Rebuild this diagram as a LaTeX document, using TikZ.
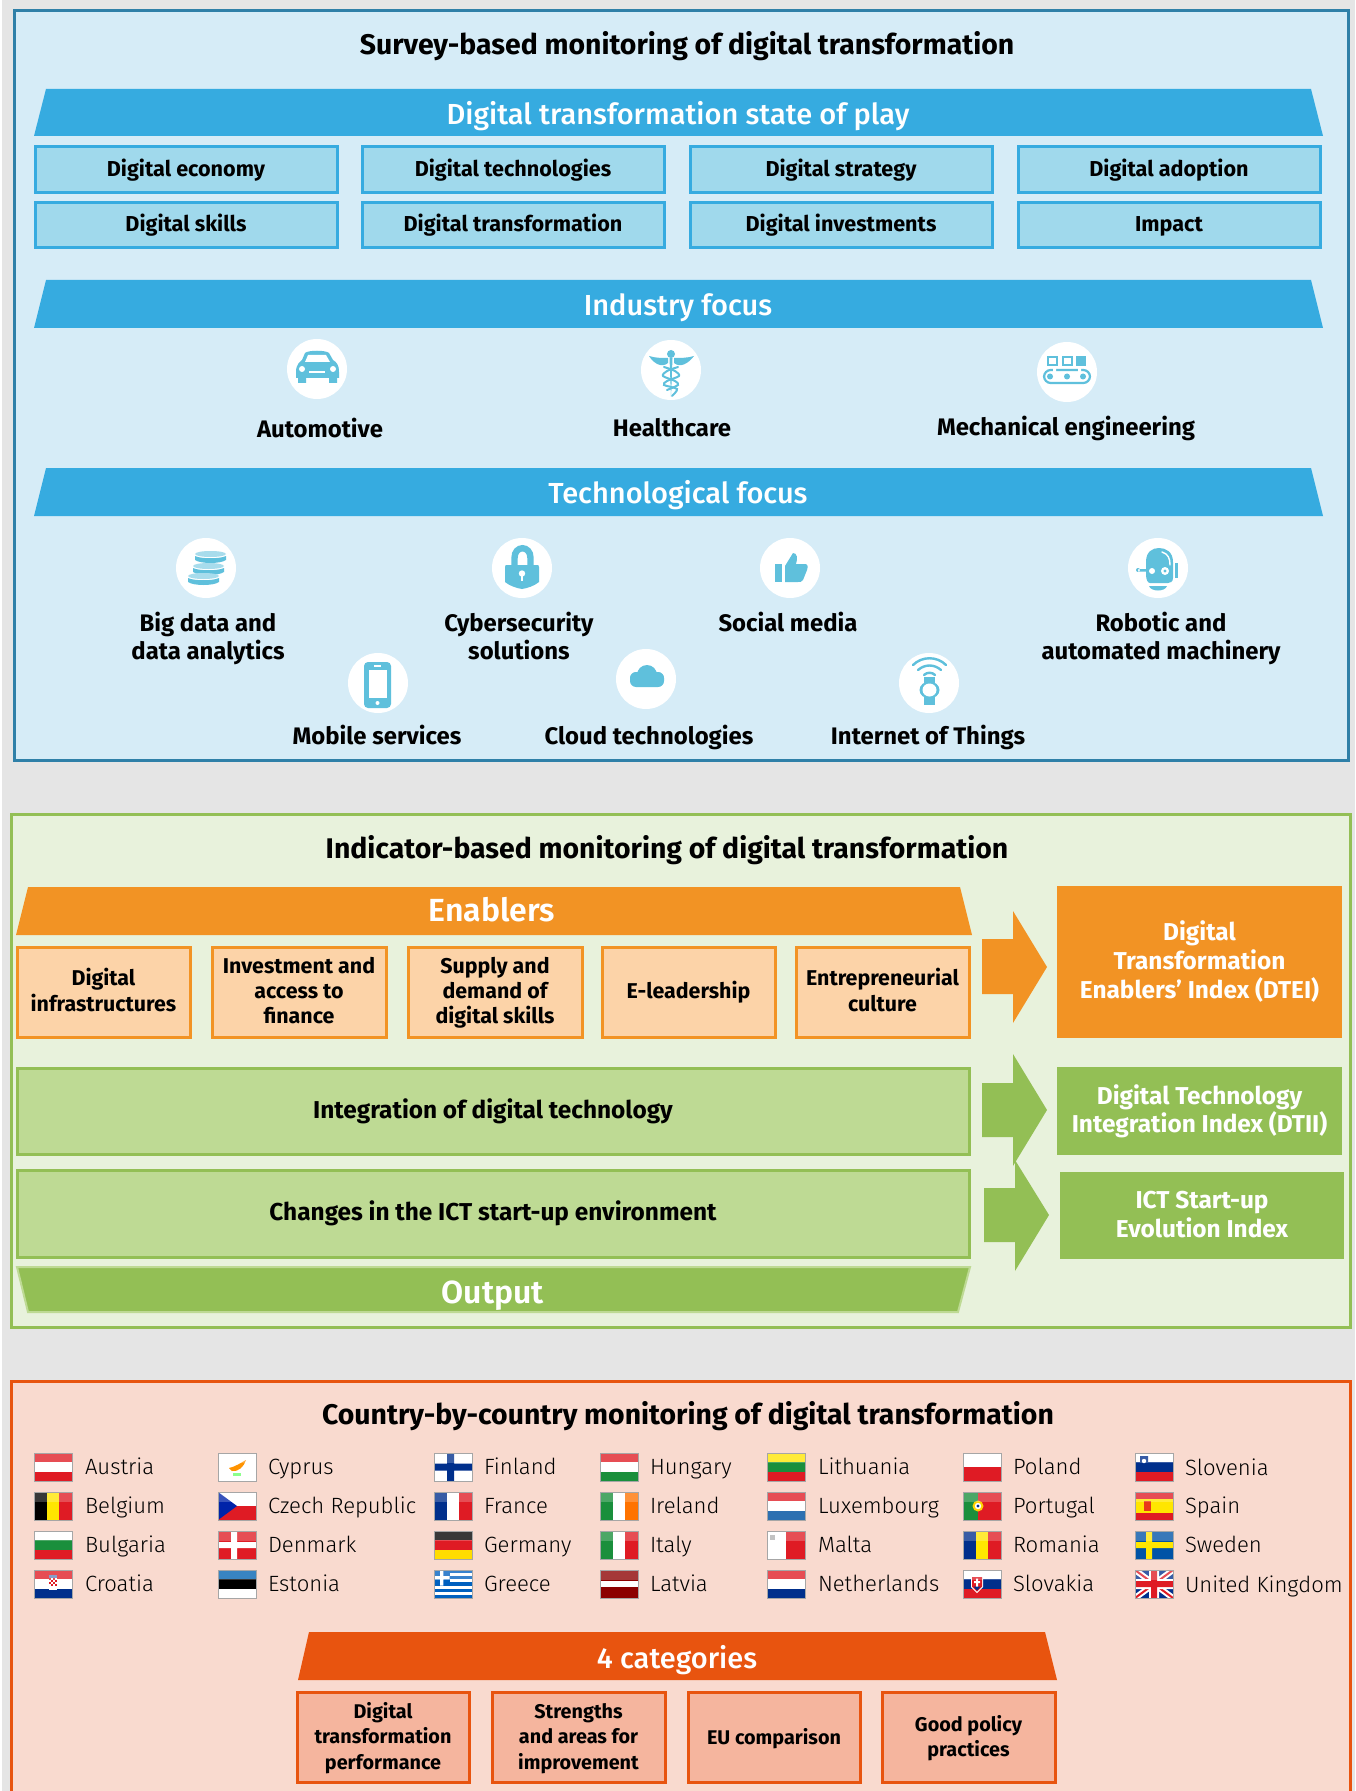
\documentclass[tikz,border=0pt]{standalone}
\usepackage{fontspec}
\setmainfont{Fira Sans}
\newfontfamily\firamed{Fira Sans Medium}
\newfontfamily\firasemi{Fira Sans SemiBold}
\newfontfamily\firalight{Fira Sans Light}
\definecolor{pagebg}{HTML}{E5E5E5}
\definecolor{blueedge}{HTML}{2F80A8}
\definecolor{bluepanel}{HTML}{D6ECF7}
\definecolor{bluebar}{HTML}{36ABE0}
\definecolor{bluecell}{HTML}{A0D9EC}
\definecolor{iconblue}{HTML}{5FC0DC}
\definecolor{iconlight}{HTML}{A8DCEC}
\definecolor{greenedge}{HTML}{93BF55}
\definecolor{greenpanel}{HTML}{E8F2DC}
\definecolor{greencell}{HTML}{BEDA94}
\definecolor{orangebar}{HTML}{F29324}
\definecolor{orangecell}{HTML}{FCD3A8}
\definecolor{rededge}{HTML}{E8540F}
\definecolor{redpanel}{HTML}{F9DACF}
\definecolor{redcell}{HTML}{F5B59E}
\definecolor{fr}{HTML}{DF1B24}
\definecolor{fb}{HTML}{002F8C}
\definecolor{fg}{HTML}{1A8F3C}
\definecolor{fy}{HTML}{FFE600}
\newcommand\fsz[2]{\fontsize{#1}{#2}\selectfont}
\newcommand\st{\rule[-.3em]{0pt}{1.3em}}
\newcommand\stx[1]{\rule[\dimexpr-.3em-#1\relax]{0pt}{\dimexpr1.3em+#1\relax}}
\newcommand\sty[1]{\rule{0pt}{\dimexpr1em+#1\relax}}
\newcommand\bx[7]{%
  \pgfmathsetlengthmacro\bw{((#4)-(#2))*.5pt}%
  \pgfmathsetlengthmacro\bh{((#5)-(#3))*.5pt}%
  \node[#6,minimum width=\bw,minimum height=\bh] (#1) at ({((#2)+(#4))/2},{((#3)+(#5))/2}) {#7};}
\newcommand\flag[3]{\begin{scope}[shift={(#1,#2)}]\begin{scope}\clip (0,0) rectangle (38,28);#3
  \fill[white,opacity=.22] (0,0) rectangle (38,10);\end{scope}
  \draw[black!35,line width=.25pt] (0,0) rectangle (38,28);\end{scope}}
\newcommand\hst[3]{\fill[#1] (0,0) rectangle (38,9.4);\fill[#2] (0,9.4) rectangle (38,18.7);\fill[#3] (0,18.7) rectangle (38,28);}
\newcommand\vst[3]{\fill[#1] (0,0) rectangle (12.7,28);\fill[#2] (12.7,0) rectangle (25.4,28);\fill[#3] (25.4,0) rectangle (38,28);}
\newcommand\disk[2]{\fill[iconlight] (#1,#2+3) ellipse[x radius=15.5,y radius=3];
  \fill[iconblue] (#1-15.5,#2+5) .. controls (#1-10,#2+8) and (#1+10,#2+8) .. (#1+15.5,#2+5) -- (#1+15.5,#2+9) .. controls (#1+10,#2+13) and (#1-10,#2+13) .. (#1-15.5,#2+9) -- cycle;}
\tikzset{
  x=.5pt,y=-.5pt,
  panel/.style={line width=1.5pt},
  textn/.style={inner sep=0pt,outer sep=0pt,align=center,text=black,execute at begin node=\st,execute at end node=\st},
  tup/.style={execute at end node=\stx{#1}},
  mdown/.style={execute at begin node=\sty{#1}},
  bluecellbox/.style={textn,draw=bluebar,fill=bluecell,line width=1.5pt,font=\bfseries\fsz{10.8}{12}},
  orangecellbox/.style={textn,tup=1pt,draw=orangebar,fill=orangecell,line width=1.5pt,font=\bfseries\fsz{10.7}{12.6}},
  greencellbox/.style={textn,tup=1.5pt,draw=greenedge,fill=greencell,line width=1.5pt,font=\bfseries\fsz{12.2}{14}},
  redcellbox/.style={textn,draw=rededge,fill=redcell,line width=1.5pt,font=\bfseries\fsz{9.9}{12.85}},
  title/.style={textn,font=\bfseries\fsz{14.2}{16}},
  bartext/.style={textn,text=white,font=\firamed\fsz{14.5}{17}},
  bigbar/.style={textn,text=white,font=\firasemi\fsz{16}{18}},
  focus/.style={textn,font=\bfseries\fsz{11.95}{14.3}},
  indexbox/.style={textn,tup=1pt,text=white,font=\bfseries\fsz{12.2}{14.4}},
  ctry/.style={textn,anchor=west,font=\firalight\fsz{11.05}{13}},
  disc/.style={fill=white,circle,inner sep=0pt,minimum size=30pt},
  ic/.style={fill=iconblue},
  icl/.style={draw=iconblue,line width=1pt,line cap=round},
}
\begin{document}
\begin{tikzpicture}
\useasboundingbox (0,0) rectangle (1355,1791);
\clip (0,0) rectangle (1355,1791);
\fill[pagebg] (0,0) rectangle (1355,1791);
\fill[white] (0,0) rectangle (1.5,1791);

% ---------- survey panel
\fill[bluepanel,draw=blueedge,panel] (14,11) rectangle (1348,760);
\node[title] (t1) at (687,45) {Survey-based monitoring of digital transformation};
\fill[bluebar] (46,89) -- (1311,89) -- (1323,136) -- (34,136) -- cycle;
\node[bartext] (b1) at (678,114) {Digital transformation state of play};
\bx{c1}{35}{147}{337}{193}{bluecellbox,tup=1.5pt}{Digital economy}
\bx{c2}{362}{147}{664}{193}{bluecellbox,tup=1.5pt}{Digital technologies}
\bx{c3}{690}{147}{992}{193}{bluecellbox,tup=1.5pt}{Digital strategy}
\bx{c4}{1018}{147}{1320}{193}{bluecellbox,tup=1.5pt}{Digital adoption}
\bx{c5}{35}{203}{337}{248}{bluecellbox,tup=1.5pt}{Digital skills}
\bx{c6}{362}{203}{664}{248}{bluecellbox,tup=1.5pt}{Digital transformation}
\bx{c7}{690}{203}{992}{248}{bluecellbox,tup=1.5pt}{Digital investments}
\bx{c8}{1018}{203}{1320}{248}{bluecellbox,tup=1.5pt}{Impact}
\fill[bluebar] (46,280) -- (1311,280) -- (1323,328) -- (34,328) -- cycle;
\node[bartext] (b2) at (678,305) {Industry focus};
\fill[bluebar] (46,468) -- (1311,468) -- (1323,516) -- (34,516) -- cycle;
\node[bartext] (b3) at (678,493.5) {Technological focus};

% discs
\node[disc] (d1) at (317,369) {};
\node[disc] (d2) at (671,370) {};
\node[disc] (d3) at (1067,372) {};
\node[disc] (d4) at (206,568) {};
\node[disc] (d5) at (522,568) {};
\node[disc] (d6) at (790,568) {};
\node[disc] (d7) at (1158,568) {};
\node[disc] (d8) at (378,683) {};
\node[disc] (d9) at (646,679) {};
\node[disc] (d10) at (929,683) {};

% car
\fill[ic] (296,372) .. controls (296,364) and (300,362) .. (302,360) -- (305,353) .. controls (308,350) and (326,350) .. (329,353) -- (333,360) .. controls (336,362) and (339,364) .. (339,372) -- (339,378) -- (296,378) -- cycle;
\fill[ic] (298,376) rectangle (306,383) (329,376) rectangle (337,383);
\fill[white] (305,362) -- (308,355) -- (326,355) -- (330,362) -- cycle;
\fill[white] (302,369) circle[radius=3] (333,369) circle[radius=3];
\fill[white] (309,371) rectangle (325,373);
% caduceus
\fill[ic] (669.5,358) -- (672.5,358) -- (671,397) -- cycle;
\fill[ic] (671,354) circle[radius=4];
\fill[ic] (649,356) .. controls (655,358) and (662,358) .. (668,358) -- (668,363) .. controls (662,368) and (654,364) .. (649,356) -- cycle;
\fill[ic] (694,356) .. controls (688,358) and (680,358) .. (674,358) -- (674,363) .. controls (680,368) and (688,364) .. (694,356) -- cycle;
\draw[icl] plot[smooth] coordinates {(664,367)(675,371)(679,376)(667,381)(664,385)(677,389)(672,396)};
\draw[icl] plot[smooth] coordinates {(678,367)(667,371)(663,376)(675,381)(678,385)(667,390)};
% conveyor
\draw[draw=iconblue,line width=1pt] (1048,357) rectangle (1057,365) (1063,357) rectangle (1072,365);
\fill[ic] (1076,356) rectangle (1086,366);
\draw[draw=iconblue,line width=1.1pt,rounded corners=3.4pt] (1044,370) rectangle (1090,383);
\fill[white] (1053,368) rectangle (1056,372) (1078,368) rectangle (1081,372);
\fill[ic] (1050,376.5) circle[radius=3] (1067,376.5) circle[radius=3] (1083,376.5) circle[radius=3];
% database
\disk{210.5}{551}
\disk{208.5}{563}
\disk{203.5}{573}
% lock
\draw[draw=iconblue,line width=3.2pt] (514.5,567) -- (514.5,558) .. controls (514.5,545) and (530.5,545) .. (530.5,558) -- (530.5,567);
\fill[ic] (505,567) .. controls (505,565) and (506,565) .. (507,565) -- (537,565) .. controls (538,565) and (539,565) .. (539,567) -- (539,582) .. controls (534,586) and (528,588) .. (522,589) .. controls (516,588) and (510,586) .. (505,582) -- cycle;
\fill[white] (522,573.5) circle[radius=3.2];
\fill[white] (520.8,574) rectangle (523.2,581);
% thumb
\fill[ic] (775,564) rectangle (782,582);
\fill[ic] (785,566) -- (793,553) .. controls (797,553) and (798,558) .. (796,564) -- (805,564) .. controls (808,564) and (808,567) .. (807,570) -- (803,580) .. controls (802,582) and (800,582) .. (798,582) -- (785,582) -- cycle;
% robot
\fill[ic] (1146,575) -- (1146,562) .. controls (1146,552) and (1152,548) .. (1159,548) .. controls (1166,548) and (1173,552) .. (1173,562) -- (1173,578) .. controls (1173,582) and (1170,583) .. (1168,583) -- (1150,583) .. controls (1148,583) and (1146,580) .. (1146,575) -- cycle;
\fill[white] (1152,571) circle[radius=3] (1165,571) circle[radius=4];
\fill[ic] (1165,571) circle[radius=1.6];
\draw[draw=white,line width=.7pt,line cap=round] (1162,552) .. controls (1168,554) and (1170,558) .. (1170,565);
\fill[ic] (1149,586) -- (1167,586) .. controls (1165,592) and (1151,592) .. (1149,586) -- cycle;
\fill[ic] (1175,563) rectangle (1178,578);
\fill[ic] (1138,570) circle[radius=2] (1138,569) rectangle (1146,571.5);
% phone
\fill[ic,rounded corners=2pt] (364,662) rectangle (391,708);
\fill[white] (369,670) rectangle (387,698);
\fill[white] (374,665) rectangle (381,667);
\fill[white] (377.5,703) circle[radius=2];
% cloud
\fill[ic,rounded corners=3pt] (630,672) rectangle (664,687);
\fill[ic] (647,675) circle[radius=10] (637,679) circle[radius=7] (657,679) circle[radius=7];
% watch
\fill[ic] (924,677) rectangle (935,705);
\fill[ic] (929.5,690) ellipse[x radius=10,y radius=8.5];
\fill[white] (929.5,690) ellipse[x radius=7,y radius=6.5];
\draw[icl,line width=1.2pt] (913,665) .. controls (922,656) and (937,656) .. (946,665);
\draw[icl,line width=1.2pt] (918,670) .. controls (925,664) and (934,664) .. (941,670);
\draw[icl,line width=1.2pt] (924,675) .. controls (927,672) and (932,672) .. (935,675);

\node[focus] (f1) at (320,429) {Automotive};
\node[focus] (f2) at (672,428) {Healthcare};
\node[focus] (f3) at (1066,427.5) {Mechanical engineering};
\node[focus] (f4) at (208,637) {\st Big data and\\data analytics};
\node[focus] (f5) at (519,637) {\st Cybersecurity\\solutions};
\node[focus] (f6) at (788,623) {Social media};
\node[focus] (f7) at (1161,637) {\st Robotic and\\automated machinery};
\node[focus] (f8) at (377,736.5) {Mobile services};
\node[focus] (f9) at (649,736.5) {Cloud technologies};
\node[focus] (f10) at (928,736.5) {Internet of Things};

% ---------- indicator panel
\fill[greenpanel,draw=greenedge,panel] (11,814) rectangle (1350,1327);
\node[title] (t2) at (667,849) {Indicator-based monitoring of digital transformation};
\fill[orangebar] (28,887) -- (960,887) -- (972,935) -- (16,935) -- cycle;
\node[bigbar] (b4) at (492,910) {Enablers};
\bx{e1}{17}{947}{190}{1037}{orangecellbox}{\st Digital\\infrastructures}
\bx{e2}{212}{947}{386}{1037}{orangecellbox}{\st Investment and\\access to\\finance}
\bx{e3}{408}{947}{582}{1037}{orangecellbox}{\st Supply and\\demand of\\digital skills}
\bx{e4}{602}{947}{775}{1037}{orangecellbox}{E-leadership}
\bx{e5}{796}{947}{969}{1037}{orangecellbox}{\st Entrepreneurial\\culture}
\bx{g1}{17}{1068}{969}{1154}{greencellbox}{Integration of digital technology}
\bx{g2}{17}{1170}{969}{1257}{greencellbox}{Changes in the ICT start-up environment}
\fill[greenedge,draw=greencell,line width=1pt] (17,1267) -- (970,1267) -- (958,1312) -- (28,1312) -- cycle;
\node[bigbar] (b5) at (493,1292) {Output};
\fill[orangebar] (982,939) -- (1013,939) -- (1013,911) -- (1047,967) -- (1013,1023) -- (1013,994) -- (982,994) -- cycle;
\fill[greenedge] (982,1083) -- (1013,1083) -- (1013,1054) -- (1047,1110) -- (1013,1166) -- (1013,1137) -- (982,1137) -- cycle;
\fill[greenedge] (984,1188) -- (1015,1188) -- (1015,1160) -- (1049,1215) -- (1015,1271) -- (1015,1242) -- (984,1242) -- cycle;
\bx{i1}{1057}{886}{1342}{1038}{indexbox,fill=orangebar}{\st Digital\\Transformation\\Enablers’ Index (DTEI)}
\bx{i2}{1057}{1067}{1342}{1155}{indexbox,fill=greenedge}{\st Digital Technology\\Integration Index (DTII)}
\bx{i3}{1060}{1172}{1344}{1259}{indexbox,fill=greenedge}{\st ICT Start-up\\Evolution Index}

% ---------- country panel
\fill[redpanel,draw=rededge,panel] (11,1381) rectangle (1350,1800);
\node[title] (t3) at (688,1415) {Country-by-country monitoring of digital transformation};
\fill[rededge] (309,1632) -- (1045,1632) -- (1057,1680) -- (298,1680) -- cycle;
\node[bartext] (b6) at (677,1658) {4 categories};
\bx{r1}{297}{1692}{469}{1782}{redcellbox}{\st Digital\\transformation\\performance}
\bx{r2}{492}{1692}{665}{1782}{redcellbox}{\st Strengths\\and areas for\\improvement}
\bx{r3}{688}{1692}{860}{1782}{redcellbox,mdown=1pt}{EU comparison}
\bx{r4}{882}{1692}{1055}{1782}{redcellbox}{\st Good policy\\practices}

% flags, column 1
\flag{34}{1453}{\hst{fr}{white}{fr}}
\flag{34}{1492}{\vst{black}{fy}{fr}}
\flag{34}{1531}{\hst{white}{fg}{fr}}
\flag{34}{1570}{\hst{fr}{white}{fb}\fill[white] (15,6) rectangle (23,20);\foreach \a in {0,2,4,6}{\foreach \b in {0,2,4,6}{\pgfmathparse{mod(\a+\b,4)==0?1:0}\ifnum\pgfmathresult=1 \fill[fr] (15+\a,8+\b) rectangle (17+\a,10+\b);\fi}}\fill[fb!60!white] (15,5) rectangle (23,8);}
% column 2
\flag{218}{1453}{\fill[white] (0,0) rectangle (38,28);\fill[orange!85!yellow] (11,15) .. controls (17,14) and (24,9) .. (28,7) .. controls (26,14) and (20,19) .. (14,18) -- cycle;\fill[green!45!white] (15,20) rectangle (23,23);}
\flag{218}{1492}{\fill[white] (0,0) rectangle (38,14);\fill[fr] (0,14) rectangle (38,28);\fill[fb!75!blue] (0,0) -- (19,14) -- (0,28) -- cycle;}
\flag{218}{1531}{\fill[fr] (0,0) rectangle (38,28);\fill[white] (13,0) rectangle (19,28) (0,11) rectangle (38,17);}
\flag{218}{1570}{\hst{blue!45!cyan!70!black}{black}{white}}
% column 3
\flag{434}{1453}{\fill[white] (0,0) rectangle (38,28);\fill[fb] (13,0) rectangle (20,28) (0,10.5) rectangle (38,17.5);}
\flag{434}{1492}{\vst{fb}{white}{fr}}
\flag{434}{1531}{\hst{black}{fr}{fy!90!orange}}
\flag{434}{1570}{\fill[blue!50!cyan!75!black] (0,0) rectangle (38,28);\foreach \s in {3.1,9.3,15.5,21.7}{\fill[white] (0,\s) rectangle (38,\s+3.1);}\fill[blue!50!cyan!75!black] (0,0) rectangle (15.5,15.5);\fill[white] (6.2,0) rectangle (9.3,15.5) (0,6.2) rectangle (15.5,9.3);}
% column 4
\flag{600}{1453}{\hst{fr}{white}{fg}}
\flag{600}{1492}{\vst{fg}{white}{orange!90!red}}
\flag{600}{1531}{\vst{fg}{white}{fr}}
\flag{600}{1570}{\fill[red!55!black] (0,0) rectangle (38,28);\fill[white] (0,11) rectangle (38,17);}
% column 5
\flag{767}{1453}{\hst{fy}{fg}{fr}}
\flag{767}{1492}{\hst{fr}{white}{cyan!55!blue!85!black}}
\flag{767}{1531}{\fill[white] (0,0) rectangle (19,28);\fill[fr] (19,0) rectangle (38,28);\fill[black!30] (3,4) rectangle (8,9);}
\flag{767}{1570}{\hst{fr}{white}{fb}}
% column 6
\flag{963}{1453}{\fill[white] (0,0) rectangle (38,14);\fill[fr] (0,14) rectangle (38,28);}
\flag{963}{1492}{\fill[fg] (0,0) rectangle (15,28);\fill[fr] (15,0) rectangle (38,28);\fill[fy!80!orange] (15,14) circle[radius=5.5];\fill[white] (15,14) circle[radius=3.2];\fill[fb] (15,14) circle[radius=1.6];}
\flag{963}{1531}{\vst{fb}{fy}{fr}}
\flag{963}{1570}{\hst{white}{fb}{fr}\fill[white] (8,6) -- (20,6) -- (20,17) -- (14,23) -- (8,17) -- cycle;\fill[fr] (9,7) -- (19,7) -- (19,16.5) -- (14,21.5) -- (9,16.5) -- cycle;\fill[white] (13,8.5) rectangle (15,17) (11,11) rectangle (17,13);\fill[fb] (10.5,16.5) -- (17.5,16.5) -- (14,20.5) -- cycle;}
% column 7
\flag{1135}{1453}{\hst{white}{fb}{fr}\fill[fb] (5,3) rectangle (13,11) (5,11) -- (13,11) -- (9,16) -- cycle;\fill[white] (9,8) circle[radius=2.2];}
\flag{1135}{1492}{\fill[fr] (0,0) rectangle (38,28);\fill[fy] (0,7) rectangle (38,21);\fill[fr!70!orange] (9,9) rectangle (16,19);}
\flag{1135}{1531}{\fill[blue!50!cyan!65!black] (0,0) rectangle (38,28);\fill[fy] (11,0) rectangle (17,28) (0,11) rectangle (38,17);}
\flag{1135}{1570}{\fill[fb] (0,0) rectangle (38,28);\draw[white,line width=3pt] (0,0) -- (38,28) (38,0) -- (0,28);\draw[fr,line width=1pt] (0,0) -- (38,28) (38,0) -- (0,28);\fill[white] (14,0) rectangle (24,28) (0,9) rectangle (38,19);\fill[fr] (16,0) rectangle (22,28) (0,11) rectangle (38,17);}

% country names
\node[ctry] (n1) at (85,1466.5) {Austria};
\node[ctry] (n2) at (85,1506) {Belgium};
\node[ctry] (n3) at (85,1544.5) {Bulgaria};
\node[ctry] (n4) at (85,1584) {Croatia};
\node[ctry] (n5) at (268,1466.5) {Cyprus};
\node[ctry] (n6) at (268,1506) {Czech Republic};
\node[ctry] (n7) at (268,1544.5) {Denmark};
\node[ctry] (n8) at (268,1584) {Estonia};
\node[ctry] (n9) at (484,1466.5) {Finland};
\node[ctry] (n10) at (484,1506) {France};
\node[ctry] (n11) at (484,1544.5) {Germany};
\node[ctry] (n12) at (484,1584) {Greece};
\node[ctry] (n13) at (650,1466.5) {Hungary};
\node[ctry] (n14) at (650,1506) {Ireland};
\node[ctry] (n15) at (650,1544.5) {Italy};
\node[ctry] (n16) at (650,1584) {Latvia};
\node[ctry] (n17) at (818,1466.5) {Lithuania};
\node[ctry] (n18) at (818,1506) {Luxembourg};
\node[ctry] (n19) at (818,1544.5) {Malta};
\node[ctry] (n20) at (818,1584) {Netherlands};
\node[ctry] (n21) at (1013,1466.5) {Poland};
\node[ctry] (n22) at (1013,1506) {Portugal};
\node[ctry] (n23) at (1013,1544.5) {Romania};
\node[ctry] (n24) at (1013,1584) {Slovakia};
\node[ctry] (n25) at (1185,1467.5) {Slovenia};
\node[ctry] (n26) at (1185,1506) {Spain};
\node[ctry] (n27) at (1185,1544.5) {Sweden};
\node[ctry] (n28) at (1185,1585) {United Kingdom};
\end{tikzpicture}
\end{document}
